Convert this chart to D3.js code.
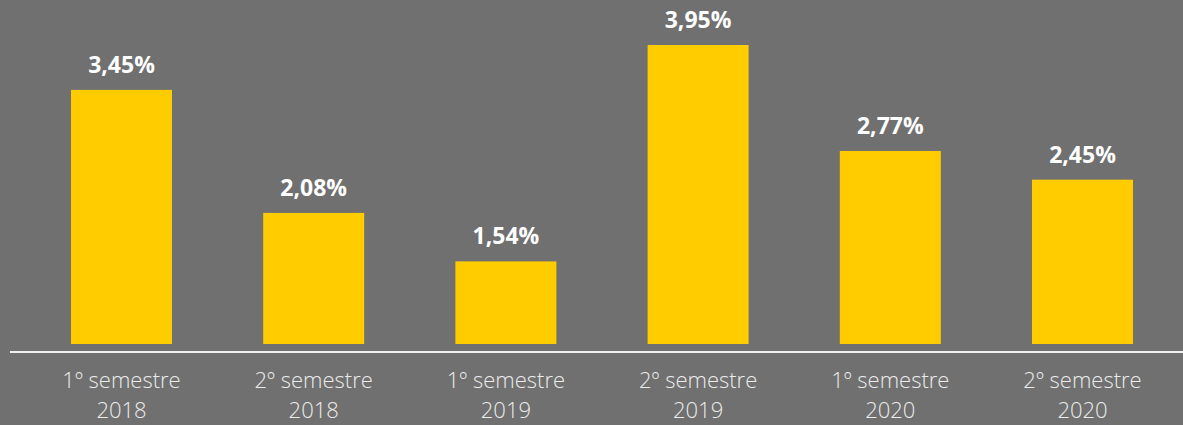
<!DOCTYPE html>
<html>
<head>
<meta charset="utf-8">
<script src="https://cdn.jsdelivr.net/npm/d3@7"></script>
<style>
  html, body { margin: 0; padding: 0; background: #707070; }
  svg { display: block; }
</style>
</head>
<body>
<div id="chart"></div>
<script>
/* global d3 */
const periods = ["1º semestre", "2º semestre", "1º semestre", "2º semestre", "1º semestre", "2º semestre"];
const years = ["2018", "2018", "2019", "2019", "2020", "2020"];
const rates = [3.45, 2.08, 1.54, 3.95, 2.77, 2.45];

var width = 1183;
var height = 425;
var baseY = 344;

const svg = d3.select("#chart")
    .append("svg")
    .attr("width", width)
    .attr("height", height)
    .style("background", "#707070");

var x = d3.scaleBand()
    .domain(d3.range(rates.length))
    .range([25.4, 1178.6])
    .paddingInner(0.4745)
    .paddingOuter(0.4745 / 2);

// axis doesn't start at zero in the original
var y = d3.scaleLinear()
    .domain([0.62, 3.95])
    .range([baseY, 45]);

svg.append("g")
    .selectAll("rect")
    .data(rates)
    .join("rect")
    .attr("x", (d, i) => x(i))
    .attr("y", d => y(d))
    .attr("width", x.bandwidth())
    .attr("height", d => baseY - y(d))
    .attr("fill", "#FFCC00");

svg.append("g")
    .selectAll("text")
    .data(rates)
    .join("text")
    .attr("x", (d, i) => x(i) + x.bandwidth() / 2)
    .attr("y", d => y(d) - 17)
    .attr("text-anchor", "middle")
    .attr("fill", "#ffffff")
    .style("font-family", "'Open Sans', sans-serif")
    .style("font-weight", 700)
    .style("font-size", "23px")
    .text(d => d.toFixed(2).replace(".", ",") + "%");

svg.append("line")
    .attr("x1", 10)
    .attr("x2", width)
    .attr("y1", 352)
    .attr("y2", 352)
    .attr("stroke", "#f0f0f0")
    .attr("stroke-width", 2);

var labels = svg.append("g")
    .selectAll("text")
    .data(periods)
    .join("text")
    .attr("text-anchor", "middle")
    .attr("fill", "#ececec")
    .style("font-family", "'Open Sans', sans-serif")
    .style("font-weight", 300)
    .style("font-size", "22px");

labels.append("tspan")
    .attr("x", (d, i) => x(i) + x.bandwidth() / 2)
    .attr("y", 388)
    .text(d => d);

labels.append("tspan")
    .attr("x", (d, i) => x(i) + x.bandwidth() / 2)
    .attr("y", 418)
    .text((d, i) => years[i]);
</script>
</body>
</html>
